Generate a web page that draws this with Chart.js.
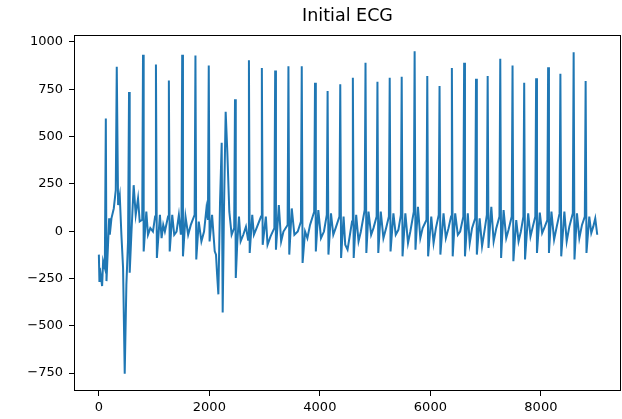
<!DOCTYPE html>
<html>
<head>
<meta charset="utf-8">
<script src="https://cdn.jsdelivr.net/npm/chart.js@4"></script>
<style>
  html, body { margin: 0; padding: 0; background: #fff; }
  canvas { display: block; }
</style>
</head>
<body>
<canvas id="ecgChart" width="622" height="419"></canvas>
<script>
// sample index (x) and amplitude (y)
const ecgX = [
    0, 10, 17, 59, 77, 108, 126, 138, 186, 198,
    228, 270, 306, 324, 348, 378, 408, 438, 468, 498,
    528, 546, 558, 588, 630, 667, 709, 739, 785, 799,
    811, 859, 889, 931, 979, 1018, 1033, 1050, 1105, 1135,
    1165, 1195, 1252, 1267, 1282, 1328, 1364, 1406, 1448, 1484,
    1495, 1508, 1522, 1568, 1616, 1664, 1733, 1748, 1763, 1808,
    1856, 1904, 1947, 1974, 1989, 2004, 2049, 2097, 2120, 2140,
    2163, 2193, 2223, 2241, 2265, 2295, 2325, 2361, 2403, 2449,
    2464, 2478, 2506, 2536, 2566, 2614, 2662, 2700, 2716, 2730,
    2776, 2806, 2854, 2935, 2950, 2965, 3022, 3053, 3107, 3176,
    3191, 3205, 3257, 3299, 3341, 3416, 3431, 3446, 3491, 3539,
    3600, 3657, 3672, 3687, 3732, 3774, 3822, 3897, 3912, 3927,
    3972, 4020, 4074, 4125, 4140, 4155, 4201, 4243, 4285, 4354,
    4369, 4384, 4429, 4459, 4501, 4582, 4597, 4612, 4657, 4700,
    4742, 4811, 4826, 4841, 4880, 4928, 4970, 5027, 5042, 5057,
    5102, 5150, 5198, 5249, 5264, 5279, 5331, 5373, 5421, 5466,
    5481, 5496, 5547, 5595, 5637, 5700, 5715, 5730, 5775, 5818,
    5860, 5929, 5944, 5959, 6016, 6058, 6100, 6151, 6166, 6181,
    6238, 6280, 6328, 6374, 6389, 6404, 6449, 6497, 6539, 6596,
    6611, 6626, 6677, 6712, 6754, 6811, 6826, 6841, 6892, 6935,
    6977, 7022, 7037, 7052, 7103, 7145, 7193, 7250, 7265, 7280,
    7325, 7373, 7415, 7472, 7487, 7502, 7554, 7596, 7638, 7683,
    7698, 7713, 7770, 7812, 7854, 7899, 7914, 7929, 7980, 8023,
    8071, 8116, 8131, 8146, 8191, 8239, 8287, 8338, 8353, 8368,
    8425, 8467, 8515, 8578, 8593, 8608, 8653, 8696, 8744, 8795,
    8810, 8825, 8876, 8912, 8948, 8984, 9020
];
const ecgY = [
    -124, -264, -194, -290, -159, -194, 596, -264, 68, -19,
    68, 120, 217, 869, 138, 190, -19, -194, -754, -282,
    -54, 736, -220, -19, 243, 86, 173, 51, 60, 933,
    -107, 103, -19, 16, -2, 77, 881, -142, 86, -37,
    33, -2, 77, 797, -107, 86, -19, -2, 86, -19,
    40, 933, -133, 77, -19, 33, 86, 928, -150, 51,
    -54, -2, 120, 60, 876, -54, 86, -107, -124, -229,
    -334, 155, 467, -430, 120, 631, 418, 103, -19, 16,
    697, -247, -54, 77, -54, -19, 24, -45, 904, -115,
    86, -19, 16, 77, 863, -72, 77, -72, -28, 16,
    849, -98, 138, -54, -2, 33, 872, -124, 120, -19,
    -2, 51, 872, -168, -2, -37, 33, 103, 785, -107,
    112, -37, -2, 86, 741, -124, 94, -19, 16, 77,
    776, -142, 77, -72, -98, 51, 811, -142, 86, -54,
    -2, 112, 890, -115, 103, -19, 16, 77, 790, -115,
    103, -37, 16, 77, 811, -107, 94, -19, 7, 86,
    816, -133, 94, -63, -2, 103, 951, -98, 129, -37,
    16, 59, 820, -133, 77, -63, 16, 86, 767, -124,
    94, -37, 16, 77, 863, -133, 94, -19, -2, 77,
    890, -133, 94, -63, 16, 68, 806, -124, 68, -80,
    -2, 86, 820, -89, 129, -54, 16, 77, 911, -142,
    112, -37, 7, 77, 876, -159, 59, -54, -2, 77,
    785, -150, 94, -28, 24, 77, 808, -115, 98, -10,
    24, 59, 867, -115, 103, -45, 24, 94, 832, -133,
    103, -54, 24, 94, 946, -150, 94, -37, 33, 77,
    794, -115, 77, -10, 24, 68, -19
];
const xTicks = [0, 2000, 4000, 6000, 8000];
const yTicks = [-750, -500, -250, 0, 250, 500, 750, 1000];

const points = ecgX.map((x, i) => ({ x: x, y: ecgY[i] }));

// matplotlib style box around the plot
const frame = {
    id: 'frame',
    afterDraw(chart) {
        const a = chart.chartArea;
        const ctx = chart.ctx;
        ctx.save();
        ctx.strokeStyle = '#000';
        ctx.lineWidth = 1;
        ctx.strokeRect(a.left + 0.5, a.top + 0.5, a.right - a.left - 1, a.bottom - a.top - 1);
        ctx.restore();
    }
};

const font = { family: 'DejaVu Sans', size: 13 };
const label = v => String(v).replace('-', '\u2212');

new Chart(document.getElementById('ecgChart').getContext('2d'), {
    type: 'line',
    data: {
        datasets: [{
            data: points,
            borderColor: '#1f77b4',
            borderWidth: 2,
            pointRadius: 0,
            tension: 0,
            fill: false
        }]
    },
    options: {
        responsive: false,
        animation: false,
        devicePixelRatio: 1,
        layout: { padding: { left: 0, right: 1, top: 0, bottom: 0 } },
        plugins: {
            legend: { display: false },
            tooltip: { enabled: false },
            title: {
                display: true,
                text: 'Initial ECG',
                fullSize: false,
                color: '#000',
                font: { family: 'DejaVu Sans', size: 17.5, weight: 'normal' },
                padding: { top: 6, bottom: 8 }
            }
        },
        scales: {
            x: {
                type: 'linear',
                min: -450,
                max: 9450,
                afterBuildTicks: s => { s.ticks = xTicks.map(v => ({ value: v })); },
                afterFit: s => { s.height = 28; },
                grid: { display: true, drawOnChartArea: false, drawTicks: true, tickLength: 5, tickColor: '#000' },
                border: { display: false },
                ticks: { color: '#000', font: font, padding: 4, maxRotation: 0, callback: label }
            },
            y: {
                type: 'linear',
                min: -845,
                max: 1037,
                afterBuildTicks: s => { s.ticks = yTicks.map(v => ({ value: v })); },
                afterFit: s => { s.width = 74; },
                grid: { display: true, drawOnChartArea: false, drawTicks: true, tickLength: 5, tickColor: '#000' },
                border: { display: false },
                ticks: { color: '#000', font: font, padding: 6, callback: label }
            }
        }
    },
    plugins: [frame]
});
</script>
</body>
</html>
